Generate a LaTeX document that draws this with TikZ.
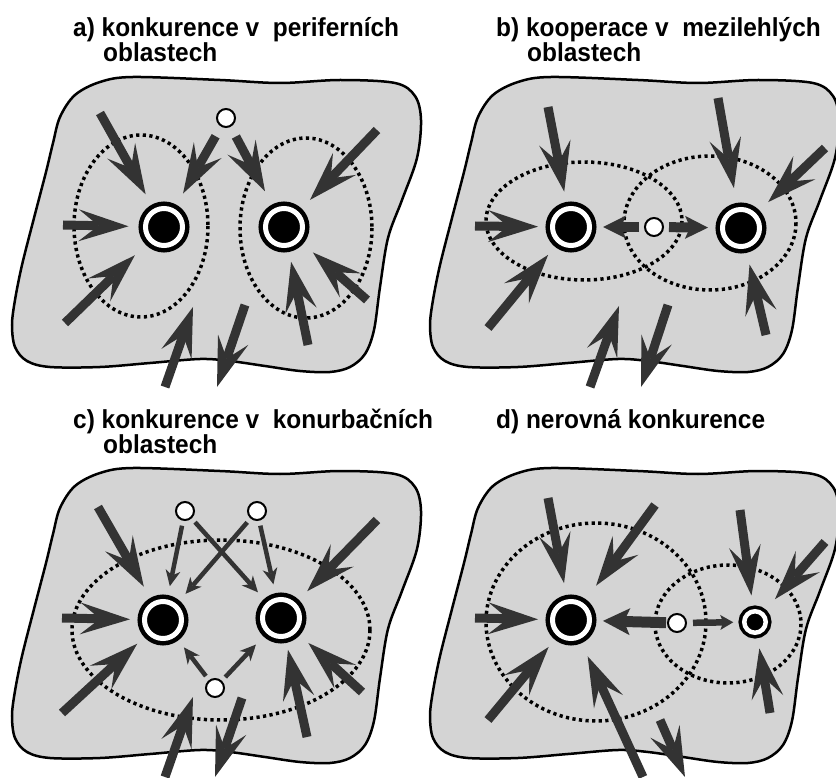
\documentclass[tikz,border=0pt]{standalone}
\usepackage{fontspec}
\setmainfont{Liberation Sans}[FakeStretch=0.94]
\usetikzlibrary{arrows.meta}
\definecolor{arr}{HTML}{333333}
\definecolor{landgray}{HTML}{D4D4D4}
\tikzset{
  land/.style={fill=landgray, draw=black, line width=2.5pt},
  dots/.style={draw=black, line width=3.5pt, dash pattern=on 3.2pt off 3.4pt},
  city/.style={circle, fill=black, draw=black, double=white, double distance=5pt,
    line width=4.5pt, minimum size=37pt, inner sep=0pt, outer sep=0pt},
  smallcity/.style={circle, fill=black, draw=black, double=white, double distance=4.5pt,
    line width=3.5pt, minimum size=21.5pt, inner sep=0pt, outer sep=0pt},
  smallc/.style={circle, fill=white, draw=black, line width=2pt, minimum size=18pt, inner sep=0pt},
  bigarr/.style={draw=arr, line width=9pt,
    -{Stealth[length=50pt,width=32pt,inset=20pt,line width=0pt]}, shorten >=19pt},
  medarr/.style={draw=arr, line width=10pt,
    -{Stealth[length=23pt,width=23pt,inset=5pt,line width=0pt]}},
  thinarr/.style={draw=arr, line width=4.5pt,
    -{Stealth[length=16pt,width=15pt,inset=5pt,line width=0pt]}, shorten <=5pt, shorten >=16pt},
  thickarr/.style={draw=arr, line width=11pt,
    -{Stealth[length=27pt,width=27pt,inset=6pt,line width=0pt]}},
  slimarr/.style={draw=arr, line width=6.5pt,
    -{Stealth[length=13pt,width=15pt,inset=3pt,line width=0pt]}},
  title/.style={anchor=base west, inner sep=0pt},
  blob/.pic={\path[land] plot[smooth cycle, tension=0.55] coordinates {
    (133,77) (220,80) (280,83) (340,80) (395,83) (415,96) (421,120) (417,158)
    (402,200) (388,238) (380,287) (374,330) (365,354) (350,367) (330,372)
    (300,371) (265,366) (230,361) (200,359) (150,363) (100,367) (50,367)
    (27,361) (15,347) (12,325) (15,300) (22,265) (34,218) (46,172) (53,143)
    (60,117) (75,95) (100,82)};}
}
\begin{document}
\begin{tikzpicture}[x=1pt,y=-1pt, font=\bfseries\fontsize{26}{26}\selectfont]
\useasboundingbox (0,0) rectangle (836,778);

% ---------- titles ----------
\node[title] (ta1) at (73,37) {a) konkurence v\ \ periferních};
\node[title] (ta2) at (103,62) {oblastech};
\node[title] (tb1) at (496,37) {b) kooperace v\ \ mezilehlých};
\node[title] (tb2) at (527,62) {oblastech};
\node[title] (tc1) at (73,428) {c) konkurence v\ \ konurbačních};
\node[title] (tc2) at (103,453) {oblastech};
\node[title] (td1) at (496,428) {d) nerovná konkurence};

% ---------- regions ----------
\pic at (0,0) {blob};
\pic at (418,0) {blob};
\pic at (0,391) {blob};
\pic at (418,391) {blob};

% ---------- dotted zones ----------
\draw[dots] (141,226) ellipse [x radius=67, y radius=91];
\draw[dots] (306,228) ellipse [x radius=66, y radius=90];
\draw[dots] (584,221) ellipse [x radius=98, y radius=59];
\draw[dots] (710,223) ellipse [x radius=86, y radius=67];
\draw[dots] (221,630) ellipse [x radius=149, y radius=90];
\draw[dots] (596,622) ellipse [x radius=110, y radius=99];
\draw[dots] (728,624) ellipse [x radius=73, y radius=59];

% ---------- centres ----------
\node[city] (a1) at (164,227) {};
\node[city] (a2) at (284,227) {};
\node[smallc] (asm) at (226,118) {};
\node[city] (b1) at (571,227) {};
\node[city] (b2) at (741,228) {};
\node[smallc] (bsm) at (654,227) {};
\node[city] (c1) at (163,620) {};
\node[city] (c2) at (281,618) {};
\node[smallc] (cs1) at (185,511) {};
\node[smallc] (cs2) at (257,511) {};
\node[smallc] (cs3) at (215,688) {};
\node[city] (d1) at (571,620) {};
\node[smallcity] (d2) at (755,622) {};
\node[smallc] (dsm) at (677,623) {};

% ---------- panel a ----------
\coordinate (a-t1) at (100,113);
\coordinate (a-t2) at (63,225);
\coordinate (a-t3) at (65,323);
\coordinate (a-t4) at (377,130);
\coordinate (a-t5) at (367,300);
\coordinate (a-t6) at (308,345);
\coordinate (a-u1) at (165,387);
\coordinate (a-u2) at (193,307);
\coordinate (a-v1) at (245,305);
\coordinate (a-v2) at (217,387);
\draw[bigarr] (a-t1) -- (a1);
\draw[bigarr, shorten >=17pt] (a-t2) -- (a1);
\draw[bigarr, shorten >=22pt] (a-t3) -- (a1);
\draw[bigarr, shorten <=11pt, shorten >=20pt] (asm) -- (a1);
\draw[bigarr, shorten <=11pt, shorten >=22pt] (asm) -- (a2);
\draw[bigarr] (a-t4) -- (a2);
\draw[bigarr, shorten >=20pt] (a-t5) -- (a2);
\draw[bigarr, shorten >=17pt] (a-t6) -- (a2);
\draw[bigarr, shorten >=0pt] (a-u1) -- (a-u2);
\draw[bigarr, shorten >=0pt] (a-v1) -- (a-v2);

% ---------- panel b ----------
\coordinate (b-t1) at (548,107);
\coordinate (b-t2) at (475,226);
\coordinate (b-t3) at (488,328);
\coordinate (b-t4) at (718,98);
\coordinate (b-t5) at (825,148);
\coordinate (b-t6) at (766,335);
\coordinate (b-u1) at (590,387);
\coordinate (b-u2) at (619,306);
\coordinate (b-v1) at (668,305);
\coordinate (b-v2) at (641,387);
\draw[bigarr, shorten >=17.5pt] (b-t1) -- (b1);
\draw[bigarr, shorten >=14.5pt] (b-t2) -- (b1);
\draw[bigarr, shorten >=17.5pt] (b-t3) -- (b1);
\draw[medarr, shorten <=5pt, shorten >=13.5pt] (bsm) -- (b1);
\draw[medarr, shorten <=5pt, shorten >=14.5pt] (bsm) -- (b2);
\draw[bigarr, shorten >=22pt] (b-t4) -- (b2);
\draw[bigarr] (b-t5) -- (b2);
\draw[bigarr] (b-t6) -- (b2);
\draw[bigarr, shorten >=0pt] (b-u1) -- (b-u2);
\draw[bigarr, shorten >=0pt] (b-v1) -- (b-v2);

% ---------- panel c ----------
\coordinate (c-t1) at (98,507);
\coordinate (c-t2) at (62,618);
\coordinate (c-t3) at (62,713);
\coordinate (c-t4) at (377,520);
\coordinate (c-t5) at (362,692);
\coordinate (c-t6) at (307,737);
\coordinate (c-u1) at (165,777);
\coordinate (c-u2) at (193,697);
\coordinate (c-v1) at (242,698);
\coordinate (c-v2) at (215,777);
\draw[bigarr, shorten >=20pt] (c-t1) -- (c1);
\draw[bigarr, shorten >=14.5pt] (c-t2) -- (c1);
\draw[bigarr, shorten >=16.5pt] (c-t3) -- (c1);
\draw[bigarr] (c-t4) -- (c2);
\draw[bigarr, shorten >=18.5pt] (c-t5) -- (c2);
\draw[bigarr, shorten >=14pt] (c-t6) -- (c2);
\draw[bigarr, shorten >=0pt] (c-u1) -- (c-u2);
\draw[bigarr, shorten >=0pt] (c-v1) -- (c-v2);
\draw[thinarr] (cs1) -- (c1);
\draw[thinarr] (cs1) -- (c2);
\draw[thinarr] (cs2) -- (c1);
\draw[thinarr] (cs2) -- (c2);
\draw[thinarr] (cs3) -- (c1);
\draw[thinarr, shorten >=18pt] (cs3) -- (c2);

% ---------- panel d ----------
\coordinate (d-t1) at (548,498);
\coordinate (d-t2) at (655,505);
\coordinate (d-t3) at (475,618);
\coordinate (d-t4) at (488,720);
\coordinate (d-t5) at (643,777);
\coordinate (d-t6) at (740,510);
\coordinate (d-t7) at (825,542);
\coordinate (d-t8) at (770,713);
\coordinate (d-v1) at (660,720);
\coordinate (d-v2) at (685,777);
\draw[bigarr] (d-t1) -- (d1);
\draw[bigarr, shorten >=24pt] (d-t2) -- (d1);
\draw[bigarr, shorten >=14.5pt] (d-t3) -- (d1);
\draw[bigarr, shorten >=16.5pt] (d-t4) -- (d1);
\draw[bigarr, shorten >=21.5pt] (d-t5) -- (d1);
\draw[thickarr, shorten <=1pt, shorten >=13.5pt] (dsm) -- (d1);
\draw[slimarr, shorten <=6pt, shorten >=11pt] (dsm) -- (d2);
\draw[bigarr, shorten >=16pt] (d-t6) -- (d2);
\draw[bigarr, shorten >=19.5pt] (d-t7) -- (d2);
\draw[bigarr, shorten >=16pt] (d-t8) -- (d2);
\draw[bigarr, shorten >=0pt] (d-v1) -- (d-v2);
\end{tikzpicture}
\end{document}
